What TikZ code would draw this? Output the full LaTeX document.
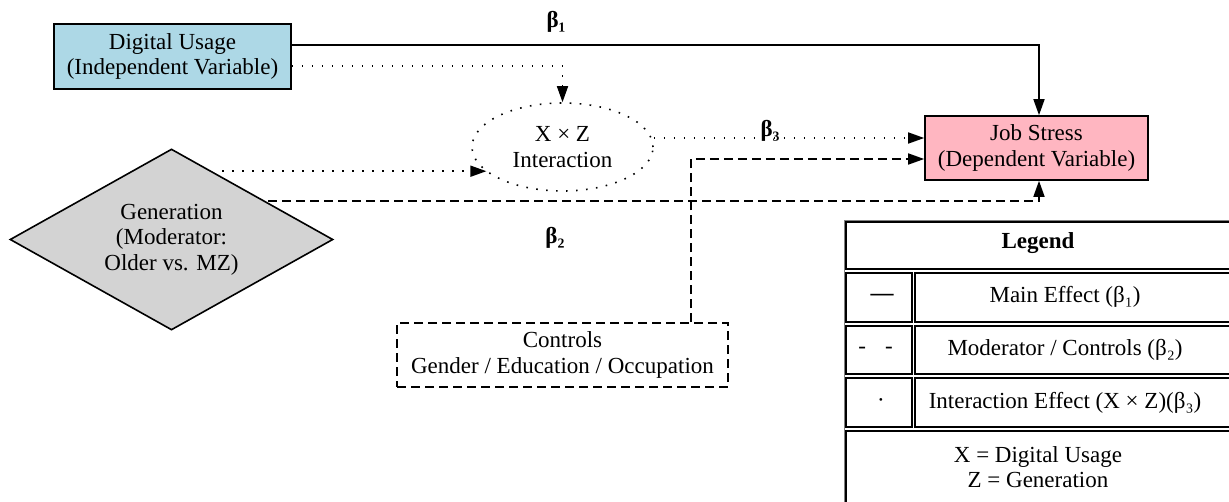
\documentclass[tikz,border=0pt]{standalone}
\usepackage{fontspec}
\setmainfont{Liberation Serif}
\usetikzlibrary{shapes.geometric,arrows.meta,calc}
\definecolor{lblue}{HTML}{ADD8E6}
\definecolor{lpink}{HTML}{FFB6C1}
\definecolor{lgray}{HTML}{D3D3D3}
\begin{document}
\begin{tikzpicture}[x=1pt,y=-1pt,
  every node/.style={font=\fontsize{23}{25.5}\selectfont, align=center, inner sep=0pt},
  lw/.style={line width=1.6pt},
  tip/.style={-{Triangle[length=16pt,width=11pt]}},
  dotpat/.style={lw, dash pattern=on 1.6pt off 8.4pt},
  dashpat/.style={lw, dash pattern=on 9pt off 5pt},
  solidln/.style={lw, tip},
  dotln/.style={dotpat, tip},
  dashln/.style={dashpat, tip},
  box/.style={draw, lw},
  blabel/.style={font=\fontsize{23}{25.5}\selectfont\bfseries},
  cell/.style={lw},
  outer/.style={line width=1pt, draw=gray},
]
\useasboundingbox (0,0) rectangle (1229,501);

% nodes
\node[box, fill=lblue, minimum width=237pt, minimum height=65pt] (du) at (172.5,56.5) {Digital Usage\\(Independent Variable)};
\node[box, fill=lpink, minimum width=223pt, minimum height=64pt] (js) at (1036.5,148) {Job Stress\\(Dependent Variable)};
\node[draw, ellipse, dotpat, minimum width=181pt, minimum height=88pt] (ix) at (562.5,147) {X × Z\\Interaction};
\node[draw, diamond, fill=lgray, lw, aspect=1.78, minimum width=323pt, minimum height=181pt] (gen) at (171.5,239.5) {Generation\\(Moderator:\\Older vs. MZ)};
\node[draw, dashpat, minimum width=331pt, minimum height=64pt] (ctl) at (562.5,355) {Controls\\Gender / Education / Occupation};

% connectors
\draw[solidln] ([yshift=11.5pt]du.east) -| ([xshift=2.5pt]js.north);
\draw[dotln] ([yshift=-9.5pt]du.east) -| (ix.north);
\coordinate (gstart) at ($(gen.north)+(50.5,23)$);
\draw[dotln] (gstart) -- (gstart -| ix.198.5);
\draw[dashln] ($(gen.north)+(96.5,53)$) -| ([xshift=2.5pt]js.south);
\coordinate (b3end) at ([yshift=10pt]js.west);
\draw[dotln] (ix.east |- b3end) -- (b3end);
\draw[dashln] ([xshift=128.5pt]ctl.north) |- ([yshift=-11pt]js.west);

% labels
\node[blabel] (b1) at (556,22) {β₁};
\node[blabel] (b3) at (770,131) {β₃};
\node[blabel] (b2) at (555,238) {β₂};

% legend
\draw[outer] (844,220) rectangle (1236,506);
\draw[cell] (846,222) rectangle (1233,269);
\draw[cell] (846,273) rectangle (912,322);
\draw[cell] (915,273) rectangle (1233,322);
\draw[cell] (846,326) rectangle (912,374);
\draw[cell] (915,326) rectangle (1233,374);
\draw[cell] (846,378) rectangle (912,427);
\draw[cell] (915,378) rectangle (1233,427);
\draw[cell] (846,431) rectangle (1233,503);

\node[font=\fontsize{23}{25.5}\selectfont\bfseries] (lg) at (1038,243) {Legend};
\node[font=\fontsize{23}{25.5}\selectfont\bfseries] (s1) at (882,297) {—};
\node (t1) at (1065,297) {Main Effect (β₁)};
\node (s2) at (875.5,350) {-\hspace{19pt}-};
\node (t2) at (1065,350) {Moderator / Controls (β₂)};
\node (s3) at (881,403) {·};
\node (t3) at (1065,403) {Interaction Effect (X × Z)(β₃)};
\node (xz) at (1038,467) {X = Digital Usage\\Z = Generation};
\end{tikzpicture}
\end{document}
